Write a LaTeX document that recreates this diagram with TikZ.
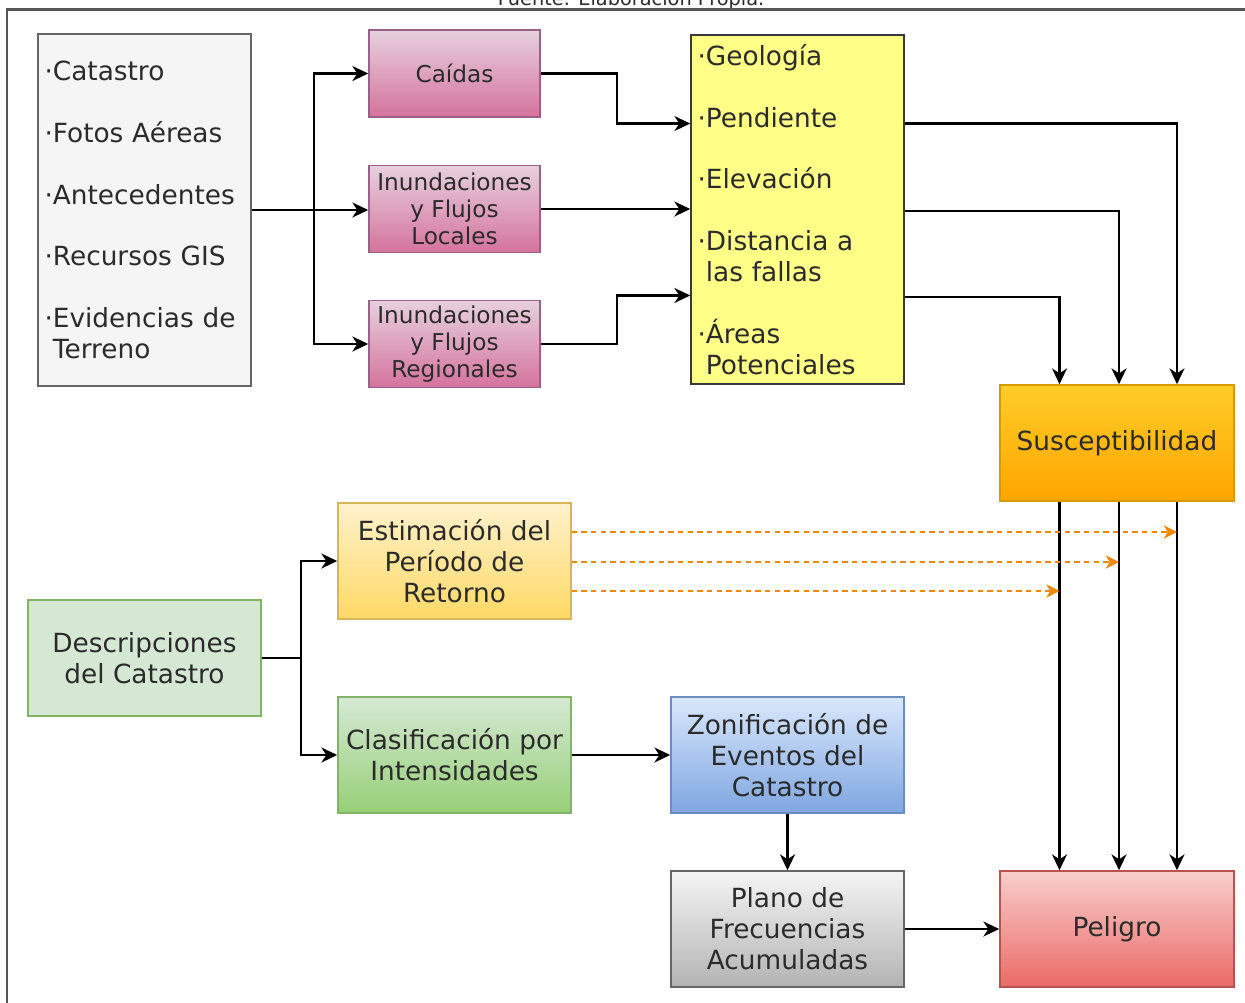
\documentclass[tikz,border=0pt]{standalone}
\usepackage{fontspec}
\setsansfont{DejaVu Sans}
\usepackage{xcolor}
\definecolor{txtgray}{HTML}{2B2B2B}
\definecolor{framegray}{HTML}{555555}
\definecolor{srcfill}{HTML}{F5F5F5}
\definecolor{srcdraw}{HTML}{666666}
\definecolor{pinktop}{HTML}{E6D0DE}
\definecolor{pinkbot}{HTML}{D5739D}
\definecolor{pinkdraw}{HTML}{996185}
\definecolor{yelfill}{HTML}{FFFF88}
\definecolor{yeldraw}{HTML}{36393D}
\definecolor{orgtop}{HTML}{FFCD28}
\definecolor{orgbot}{HTML}{FFA500}
\definecolor{orgdraw}{HTML}{D79B00}
\definecolor{esttop}{HTML}{FFF2CC}
\definecolor{estbot}{HTML}{FFD966}
\definecolor{estdraw}{HTML}{D6B656}
\definecolor{grntop}{HTML}{D5E8D4}
\definecolor{grnbot}{HTML}{97D077}
\definecolor{grndraw}{HTML}{82B366}
\definecolor{blutop}{HTML}{DAE8FC}
\definecolor{blubot}{HTML}{7EA6E0}
\definecolor{bludraw}{HTML}{6C8EBF}
\definecolor{graytop}{HTML}{F5F5F5}
\definecolor{graybot}{HTML}{B3B3B3}
\definecolor{redtop}{HTML}{F8CECC}
\definecolor{redbot}{HTML}{EA6B66}
\definecolor{reddraw}{HTML}{B85450}
\definecolor{dashorange}{HTML}{F08705}
\tikzset{every picture/.style={/utils/exec={\sffamily}}}
\usetikzlibrary{calc}
\usetikzlibrary{positioning}
\usetikzlibrary{arrows.meta}
\tikzset{
  box/.style={draw, line width=0.9pt, align=center, inner sep=1pt, text=txtgray,
    font=\fontsize{15}{17.6}\selectfont},
  listbox/.style={box, align=left, text width=4cm, inner xsep=0.13cm},
  eventbox/.style={box, font=\fontsize{13.2}{15.3}\selectfont,
    minimum width=3.42cm, minimum height=1.74cm,
    top color=pinktop, bottom color=pinkbot, draw=pinkdraw},
  stagebox/.style={box, minimum width=4.66cm, minimum height=2.32cm},
  link/.style={line width=1.3pt, -{Stealth[length=9pt,width=8.5pt,inset=2.8pt]}},
  dashlink/.style={draw=dashorange, line width=0.75pt, dash pattern=on 3pt off 2.5pt,
    -{Stealth[length=7.5pt,width=7.5pt,inset=2.2pt]}},
}
\newcommand{\gap}{\\[17.6pt]}

\begin{document}
\begin{tikzpicture}[x=0.02cm, y=-0.02cm]
  \fill[white] (0,0) rectangle (1245,1002);
  \useasboundingbox (0,0) rectangle (1245,1002);
  \clip (0,0) rectangle (1245,1002);

  % marco y fuente
  \node[anchor=base, text=txtgray, font=\fontsize{11}{13}\selectfont] (fuente) at (631,5) {Fuente: Elaboración Propia.};
  \draw[framegray, line width=1.7pt] (7,1010) -- (7,9) -- (1260,9);

  % insumos
  \node[listbox, fill=srcfill, draw=srcdraw, minimum height=7.04cm] (fuentes) at (144.5,210)
    {·Catastro\gap ·Fotos Aéreas\gap ·Antecedentes\gap ·Recursos GIS\gap ·Evidencias de\\\hphantom{·}Terreno};

  \node[eventbox] (caidas) at (454.5,73.5) {Caídas};
  \node[eventbox] (locales) at (454.5,209) {Inundaciones\\y Flujos\\Locales};
  \node[eventbox] (regionales) at (454.5,344) {Inundaciones\\y Flujos\\Regionales};

  \node[listbox, fill=yelfill, draw=yeldraw, minimum height=6.98cm] (factores) at (797.5,209.5)
    {·Geología\gap ·Pendiente\gap ·Elevación\gap ·Distancia a\\\hphantom{·}las fallas\gap ·Áreas\\\hphantom{·}Potenciales};

  \node[stagebox, minimum width=4.68cm, top color=orgtop, bottom color=orgbot, draw=orgdraw] (suscept) at (1117,443) {Susceptibilidad};

  % catastro
  \node[stagebox, fill=grntop, draw=grndraw] (descrip) at (144.5,658) {Descripciones\\del Catastro};
  \node[stagebox, top color=esttop, bottom color=estbot, draw=estdraw] (estimacion) at (454.5,561) {Estimación del\\Período de\\Retorno};
  \node[stagebox, top color=grntop, bottom color=grnbot, draw=grndraw] (clasif) at (454.5,755) {Clasificación por\\Intensidades};
  \node[stagebox, top color=blutop, bottom color=blubot, draw=bludraw] (zonif) at (787.5,755) {Zonificación de\\Eventos del\\Catastro};
  \node[stagebox, top color=graytop, bottom color=graybot, draw=srcdraw] (plano) at (787.5,929) {Plano de\\Frecuencias\\Acumuladas};
  \node[stagebox, minimum width=4.68cm, top color=redtop, bottom color=redbot, draw=reddraw] (peligro) at (1117,929) {Peligro};

  \coordinate (colA) at ([xshift=-1.15cm]suscept.north);
  \coordinate (colB) at ([xshift=0.04cm]suscept.north);
  \coordinate (colC) at ([xshift=1.2cm]suscept.north);

  % conexiones
  \draw[link] (fuentes.east) -- (fuentes.east -| locales.west);
  \draw[link] (fuentes.east) ++(62,0) |- (caidas.west);
  \draw[link] (fuentes.east) ++(62,0) |- (regionales.west);

  \draw[link] (caidas.east) -- ++(76,0) |- ([yshift=1.72cm]factores.west);
  \draw[link] (locales.east) -- (locales.east -| factores.west);
  \draw[link] (regionales.east) -- ++(76,0) |- ([yshift=-1.72cm]factores.west);

  \draw[link] ([yshift=1.72cm]factores.east) -| (colC);
  \draw[link] ([yshift=-0.03cm]factores.east) -| (colB);
  \draw[link] ([yshift=-1.75cm]factores.east) -| (colA);

  \foreach \c in {colA,colB,colC}
    \draw[link] (suscept.south -| \c) -- (peligro.north -| \c);

  \coordinate (dC) at ([yshift=0.58cm]estimacion.east);
  \coordinate (dB) at ([yshift=-0.02cm]estimacion.east);
  \coordinate (dA) at ([yshift=-0.6cm]estimacion.east);
  \draw[dashlink] (dC) -- (dC -| colC);
  \draw[dashlink] (dB) -- (dB -| colB);
  \draw[dashlink] (dA) -- (dA -| colA);

  \draw[link] (descrip.east) -- ++(39,0) |- (estimacion.west);
  \draw[link] (descrip.east) -- ++(39,0) |- (clasif.west);
  \draw[link] (clasif.east) -- (zonif.west);
  \draw[link] (zonif.south) -- (plano.north);
  \draw[link] (plano.east) -- (peligro.west);
\end{tikzpicture}
\end{document}
